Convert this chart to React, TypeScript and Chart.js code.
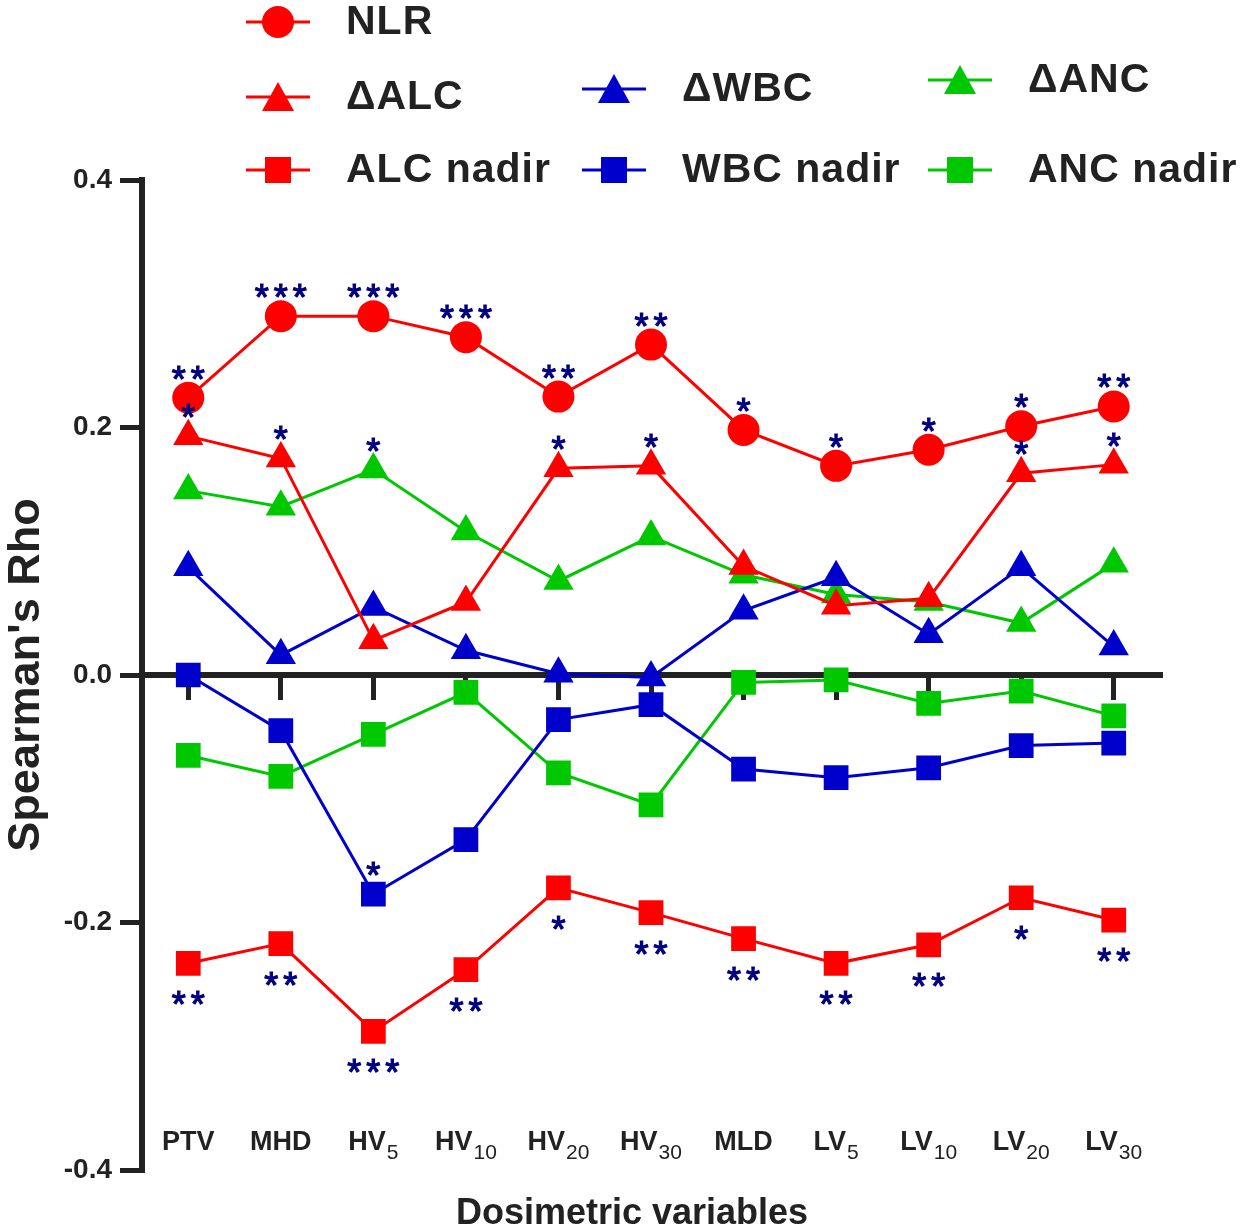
import React, { useRef, useEffect } from 'react';
import { Chart, registerables, type Plugin, type ChartConfiguration } from 'chart.js';

Chart.register(...registerables);

// categories on the x axis, split into main text + subscript
const categories = ['PTV', 'MHD', 'HV5', 'HV10', 'HV20', 'HV30', 'MLD', 'LV5', 'LV10', 'LV20', 'LV30'];
const labelMain = ['PTV', 'MHD', 'HV', 'HV', 'HV', 'HV', 'MLD', 'LV', 'LV', 'LV', 'LV'];
const labelSub = ['', '', '5', '10', '20', '30', '', '5', '10', '20', '30'];
const yTicks = [-0.4, -0.2, 0, 0.2, 0.4];

// Spearman's rho per series
const nlr = [0.224, 0.290, 0.290, 0.273, 0.225, 0.267, 0.198, 0.169, 0.182, 0.201, 0.217];
const dAlc = [0.193, 0.175, 0.028, 0.059, 0.167, 0.169, 0.088, 0.056, 0.062, 0.163, 0.170];
const alcNadir = [-0.233, -0.217, -0.288, -0.238, -0.172, -0.192, -0.213, -0.233, -0.218, -0.180, -0.198];
const dWbc = [0.087, 0.016, 0.055, 0.020, 0.001, -0.002, 0.052, 0.079, 0.033, 0.087, 0.023];
const wbcNadir = [0.000, -0.045, -0.177, -0.133, -0.036, -0.024, -0.076, -0.083, -0.075, -0.057, -0.055];
const dAnc = [0.149, 0.136, 0.166, 0.116, 0.076, 0.112, 0.081, 0.065, 0.059, 0.042, 0.090];
const ancNadir = [-0.065, -0.082, -0.048, -0.014, -0.079, -0.105, -0.006, -0.004, -0.023, -0.013, -0.033];

// significance marks
const sigNlr = ['**', '***', '***', '***', '**', '**', '*', '*', '*', '*', '**'];
const sigDAlc = ['*', '*', '', '', '*', '*', '', '', '', '*', '*'];
const sigAlcNadir = ['**', '**', '***', '**', '*', '**', '**', '**', '**', '*', '**'];
const sigWbcNadir = ['', '', '*', '', '', '', '', '', '', '', ''];
const sigDAnc = ['', '', '*', '', '', '', '', '', '', '', ''];

const FONT = '"Liberation Sans", Arial, Helvetica, sans-serif';
const INK = '#222222';
const STAR = '#00007f';
const RED = '#ff0000';
const BLUE = '#0000cc';
const GREEN = '#00c800';

type Shape = 'circle' | 'triangle' | 'rect';

const series: { label: string; data: number[]; color: string; shape: Shape; sig?: string[]; side?: number }[] = [
  { label: 'NLR', data: nlr, color: RED, shape: 'circle', sig: sigNlr, side: -1 },
  { label: 'ΔALC', data: dAlc, color: RED, shape: 'triangle', sig: sigDAlc, side: -1 },
  { label: 'ALC nadir', data: alcNadir, color: RED, shape: 'rect', sig: sigAlcNadir, side: 1 },
  { label: 'ΔWBC', data: dWbc, color: BLUE, shape: 'triangle' },
  { label: 'WBC nadir', data: wbcNadir, color: BLUE, shape: 'rect', sig: sigWbcNadir, side: -1 },
  { label: 'ΔANC', data: dAnc, color: GREEN, shape: 'triangle', sig: sigDAnc, side: -1 },
  { label: 'ANC nadir', data: ancNadir, color: GREEN, shape: 'rect' },
];

// legend slots: series index, marker centre
const legendSlots: [number, number, number][] = [
  [0, 278, 22], [1, 278, 97], [2, 278, 170],
  [3, 614, 89], [4, 614, 170],
  [5, 960, 80], [6, 960, 170],
];

function drawMarker(ctx: CanvasRenderingContext2D, shape: Shape, x: number, y: number) {
  ctx.beginPath();
  if (shape === 'circle') {
    ctx.arc(x, y, 16, 0, Math.PI * 2);
  } else if (shape === 'triangle') {
    ctx.moveTo(x, y - 15);
    ctx.lineTo(x + 16, y + 14);
    ctx.lineTo(x - 16, y + 14);
    ctx.closePath();
  } else {
    ctx.rect(x - 13, y - 13, 26, 26);
  }
  ctx.fill();
}

const legendPlugin: Plugin = {
  id: 'customLegend',
  afterDraw(chart) {
    const { ctx } = chart;
    ctx.save();
    legendSlots.forEach(([si, x, y]) => {
      const s = series[si];
      ctx.strokeStyle = s.color;
      ctx.fillStyle = s.color;
      ctx.lineWidth = 3;
      ctx.beginPath();
      ctx.moveTo(x - 32, y);
      ctx.lineTo(x + 32, y);
      ctx.stroke();
      drawMarker(ctx, s.shape, x, y);
      ctx.fillStyle = INK;
      ctx.font = `bold 41px ${FONT}`;
      (ctx as any).letterSpacing = '1px';
      ctx.textAlign = 'left';
      ctx.textBaseline = 'middle';
      ctx.fillText(s.label, x + 68, y + 1);
      (ctx as any).letterSpacing = '0px';
    });
    ctx.restore();
  },
};

const starsPlugin: Plugin = {
  id: 'stars',
  afterDatasetsDraw(chart) {
    const { ctx } = chart;
    ctx.save();
    ctx.font = `36px ${FONT}`;
    ctx.fillStyle = STAR;
    ctx.strokeStyle = STAR;
    ctx.lineWidth = 1.2;
    ctx.textAlign = 'center';
    ctx.textBaseline = 'alphabetic';
    series.forEach((s, di) => {
      if (!s.sig) return;
      const meta = chart.getDatasetMeta(di);
      s.sig.forEach((mark, i) => {
        if (!mark) return;
        const pt = meta.data[i];
        const cy = pt.y + ((s.side ?? -1) < 0 ? -27 : 33);
        for (let k = 0; k < mark.length; k++) {
          const cx = pt.x + (k - (mark.length - 1) / 2) * 19;
          ctx.fillText('*', cx, cy + 21);
          ctx.strokeText('*', cx, cy + 21);
        }
      });
    });
    ctx.restore();
  },
};

const xLabelsPlugin: Plugin = {
  id: 'xLabels',
  afterDraw(chart) {
    const { ctx, chartArea } = chart;
    const x = chart.scales.x;
    ctx.save();
    ctx.fillStyle = INK;
    ctx.textBaseline = 'alphabetic';
    ctx.textAlign = 'left';
    categories.forEach((_, i) => {
      const px = x.getPixelForValue(i);
      ctx.font = `bold 27px ${FONT}`;
      const wMain = ctx.measureText(labelMain[i]).width;
      ctx.font = `21px ${FONT}`;
      const wSub = labelSub[i] ? ctx.measureText(labelSub[i]).width + 1 : 0;
      const left = px - (wMain + wSub) / 2;
      ctx.font = `bold 27px ${FONT}`;
      ctx.fillText(labelMain[i], left, 1150);
      if (labelSub[i]) {
        ctx.font = `21px ${FONT}`;
        ctx.fillText(labelSub[i], left + wMain + 1, 1159);
      }
    });
    ctx.font = `bold 36px ${FONT}`;
    ctx.textAlign = 'center';
    ctx.fillText('Dosimetric variables', (chartArea.left + chartArea.right) / 2 - 19, 1224);
    ctx.restore();
  },
};

export default function App() {
  const canvasRef = useRef<HTMLCanvasElement>(null);
  const chartRef = useRef<Chart | null>(null);

  useEffect(() => {
    if (!canvasRef.current) return;
    chartRef.current?.destroy();

    const config: ChartConfiguration = {
      type: 'line',
      data: {
        labels: categories,
        datasets: series.map(s => ({
          label: s.label,
          data: s.data,
          borderColor: s.color,
          backgroundColor: s.color,
          borderWidth: 3,
          pointStyle: s.shape,
          pointRadius: s.shape === 'circle' ? 16 : 17.5,
          pointBorderWidth: 0,
          pointBackgroundColor: s.color,
          tension: 0,
          fill: false,
        })),
      },
      options: {
        responsive: true,
        maintainAspectRatio: false,
        animation: false,
        layout: { padding: { top: 180, bottom: 60, right: 82, left: 0 } },
        plugins: {
          legend: { display: false },
          tooltip: { enabled: false },
        },
        scales: {
          x: {
            type: 'category',
            offset: true,
            position: { y: 0 },
            afterFit: s => { s.height = 0; },
            border: { display: true, width: 6, color: INK },
            grid: { display: true, drawOnChartArea: false, drawTicks: true, tickLength: 22, lineWidth: 5, color: INK },
            ticks: { display: false },
          },
          y: {
            min: -0.4,
            max: 0.4,
            afterFit: s => { s.width = 142; },
            afterBuildTicks: s => { s.ticks = yTicks.map(v => ({ value: v })); },
            border: { display: true, width: 6, color: INK },
            grid: { display: true, drawOnChartArea: false, drawTicks: true, tickLength: 22, lineWidth: 5, color: INK },
            ticks: {
              padding: 8,
              color: INK,
              font: { family: FONT, size: 28, weight: 'bold' },
              callback: v => Number(v).toFixed(1),
            },
            title: {
              display: true,
              text: "Spearman's Rho",
              color: INK,
              font: { family: FONT, size: 45, weight: 'bold' },
              padding: { top: 0, bottom: 0 },
            },
          },
        },
      },
      plugins: [starsPlugin, legendPlugin, xLabelsPlugin],
    };

    chartRef.current = new Chart(canvasRef.current, config);
    return () => { chartRef.current?.destroy(); chartRef.current = null; };
  }, []);

  return (
    <div style={{ position: 'fixed', left: 0, top: 0, width: 1242, height: 1230, background: '#fff' }}>
      <canvas ref={canvasRef} role="img" aria-label="Spearman's rho of blood counts by dosimetric variable" />
    </div>
  );
}
